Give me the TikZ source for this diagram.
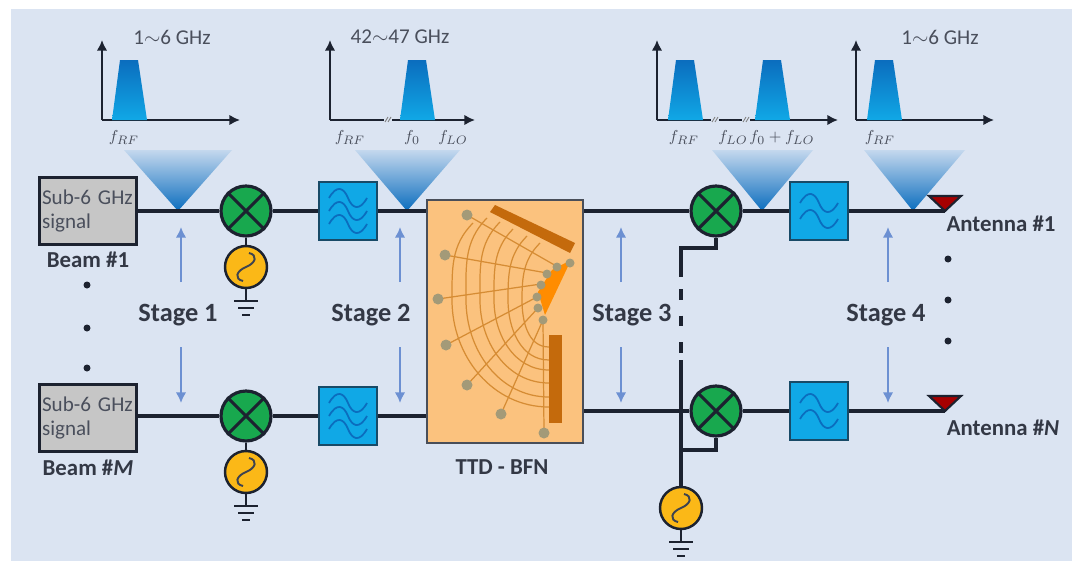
\documentclass[tikz,border=0pt]{standalone}
\usepackage{amsmath,amssymb}
\usepackage{fontspec}
\setmainfont{Carlito}
\usepackage{tikz}
\usetikzlibrary{arrows.meta}

\definecolor{panelbg}{HTML}{DBE4F2}
\definecolor{wirecol}{HTML}{1C2230}
\definecolor{mixgreen}{HTML}{18A84E}
\definecolor{oscyellow}{HTML}{FBB817}
\definecolor{filtblue}{HTML}{10A8E6}
\definecolor{banddark}{HTML}{0B6DBE}
\definecolor{funneltop}{HTML}{C4D8EE}
\definecolor{bfnorange}{HTML}{FBC27E}
\definecolor{barbrown}{HTML}{C46A0C}
\definecolor{arccol}{HTML}{D68C34}
\definecolor{portgray}{HTML}{A39A78}
\definecolor{stagearrow}{HTML}{6C90D2}
\definecolor{labelgray}{HTML}{4A4F5C}

\tikzset{
  wire/.style={line width=1.8pt,wirecol},
  mixer/.style={circle,draw=wirecol,line width=1.8pt,fill=mixgreen,minimum size=1cm,inner sep=0pt},
  osc/.style={circle,draw=wirecol,line width=1.4pt,fill=oscyellow,minimum size=0.84cm,inner sep=0pt},
  filt/.style={rectangle,draw=wirecol!70!filtblue,line width=1.4pt,fill=filtblue,minimum size=1.16cm,inner sep=0pt},
  srcbox/.style={rectangle,draw=wirecol,line width=2pt,fill=gray!45,minimum width=1.94cm,minimum height=1.34cm,
    text width=1.84cm,inner sep=0pt,align=left,text=labelgray,font=\fontsize{12}{14}\selectfont},
  boldlabel/.style={font=\fontsize{13}{15}\selectfont\bfseries,text=wirecol!90},
  stagelabel/.style={font=\fontsize{15}{17}\selectfont\bfseries,text=wirecol!90},
  bandlabel/.style={font=\fontsize{12}{14}\selectfont,text=labelgray},
  freqlabel/.style={font=\fontsize{9.5}{11}\selectfont,text=labelgray},
  axisline/.style={line width=1.6pt,wirecol,-{Latex[length=6pt,width=6pt]}},
  stagearr/.style={line width=1.5pt,stagearrow,-{Latex[length=6pt,width=6pt]}},
  bfnarc/.style={line width=0.7pt,arccol},
  gndpic/.pic={
    \draw[wire,line width=1.4pt] (-12,0) -- (12,0);
    \draw[wire,line width=1.4pt] (-8,7) -- (8,7);
    \draw[wire,line width=1.4pt] (-4,14) -- (4,14);
  },
  sinepic/.pic={
    \draw[wirecol!85,line width=1.1pt] (3,-14) .. controls (12,-12) and (10,-4) .. (0,0) .. controls (-10,4) and (-12,12) .. (-3,14);
  },
  wavepic/.pic={
    \draw[banddark,line width=1pt] (-19,0) .. controls (-11,-14) and (-4,-10) .. (0,0) .. controls (4,10) and (11,14) .. (19,0);
  }
}

\begin{document}
\begin{tikzpicture}[x=0.02cm,y=-0.02cm]
  \useasboundingbox (0,0) rectangle (1084,561);
  \fill[panelbg] (11,9) rectangle (1072,561);

  % Funnels from the line up to each spectrum
  \foreach \lx/\rx/\ax in {124/232/178,355/460/407,712/813/762,864/965/913}
    \shade[top color=funneltop,bottom color=banddark] (\lx,150) -- (\rx,150) -- (\ax,211) -- cycle;

  % Spectrum axes
  \foreach \ox/\ex in {102/240,330/475,657/838,856/994} {
    \draw[axisline] (\ox,120) -- (\ex,120);
    \draw[axisline] (\ox,120) -- (\ox,40);
  }
  % Spectrum bands
  \foreach \bx in {112,400,668,755,867}
    \shade[top color=banddark,bottom color=filtblue] (\bx,120) -- (\bx+8,60) -- (\bx+26,60) -- (\bx+35,120) -- cycle;
  % Axis breaks
  \foreach \bx in {388,715,746} {
    \fill[panelbg] (\bx-4,117) rectangle (\bx+4,123);
    \draw[gray,line width=0.5pt] (\bx-3,122) -- (\bx,117) (\bx,122) -- (\bx+3,117);
  }

  % Spectrum labels
  \node[bandlabel] (bandA) at (172,37) {1$\sim$6 GHz};
  \node[bandlabel] (bandB) at (400,37) {42$\sim$47 GHz};
  \node[bandlabel] (bandD) at (940,37) {1$\sim$6 GHz};
  \foreach \lx/\txt in {124/f_{RF},350/f_{RF},412/f_{0},453/f_{LO},684/f_{RF},733/f_{LO},782/f_{0}+f_{LO},880/f_{RF}}
    \node[freqlabel] at (\lx,138) {$\txt$};

  % Sources
  \node[srcbox] (srcA) at (88,211) {Sub-6 GHz\\signal};
  \node[srcbox] (srcB) at (88,418) {Sub-6 GHz\\signal};
  \node[boldlabel] (beamA) at (88,260) {Beam \#1};
  \node[boldlabel] (beamB) at (88,468) {Beam \#\textit{M}};

  % Mixers
  \foreach \n/\x/\y in {mixA/246/211,mixB/246/416,mixC/716/211,mixD/716/411} {
    \node[mixer] (\n) at (\x,\y) {};
    \draw[wire] (\n.45) -- (\n.225) (\n.135) -- (\n.315);
  }
  % Local oscillators and grounds
  \foreach \n/\x/\y in {oscA/246/267,oscB/246/472,oscC/681/508} {
    \node[osc] (\n) at (\x,\y) {};
    \pic at (\n) {sinepic};
    \pic at (\x,\y+34) {gndpic};
    \draw[wire,line width=1.4pt] (\n) -- (\x,\y+34);
  }
  % Filters
  \foreach \n/\x/\y in {filtA/348/211,filtB/348/416} {
    \node[filt] (\n) at (\x,\y) {};
    \foreach \dy in {-13,0,13} \pic at (\x,\y+\dy) {wavepic};
  }
  \foreach \n/\x/\y in {filtC/819/211,filtD/819/411} {
    \node[filt] (\n) at (\x,\y) {};
    \foreach \dy in {-8,8} \pic at (\x,\y+\dy) {wavepic};
  }

  % Lens block
  \node[rectangle,draw=wirecol!80,line width=1.4pt,fill=bfnorange,minimum width=3.12cm,minimum height=4.86cm] (bfn) at (505,321.5) {};
  \node[boldlabel] (bfnlabel) at (502,467) {TTD - BFN};
  % Lens contour
  \fill[orange!90!yellow] (571,260) -- (545,315) -- (538,292) -- (552,270) -- cycle;
  \fill[barbrown] (490,212) -- (495,205) -- (575,243) -- (570,253) -- cycle;
  \fill[barbrown] (549,335) rectangle (562,423);
  % Lens arcs
  \foreach \tx/\ty/\lx/\bx in {473/223/452/407,487/218/466/397,500/222/480/383,513/229/494/370,527/236/508/360,540/243/522/347}
    \draw[bfnarc] (\tx,\ty) to[out=225,in=90] (\lx,300) to[out=-90,in=180] (549,\bx);
  % Lens rays and ports
  \foreach \ax/\ay/\bx/\by in {467/215/558/267,445/255/547/273,438/299/541/284,446/345/537/297,467/385/538/308,501/414/543/320,544/433/543/320}
    \draw[bfnarc] (\ax,\ay) -- (\bx,\by);
  \foreach \px/\py in {467/215,445/255,438/299,446/345,467/385,501/414,544/433}
    \fill[portgray] (\px,\py) circle (5.5);
  \foreach \px/\py in {570/263,557/267,547/274,541/285,537/297,538/308,543/320}
    \fill[portgray] (\px,\py) circle (4.5);

  % Antennas
  \coordinate (antA) at (945,211);
  \coordinate (antB) at (945,411);
  \foreach \n in {antA,antB}
    \filldraw[draw=wirecol,fill=red!65!black,line width=1.2pt] (\n) -- ++(-16,-15) -- ++(32,0) -- cycle;
  \node[boldlabel] (antlabelA) at (1001,224) {Antenna \#1};
  \node[boldlabel] (antlabelB) at (1003,428) {Antenna \#\textit{N}};

  % Signal lines
  \draw[wire] (srcA) -- (mixA);
  \draw[wire] (mixA) -- (filtA);
  \draw[wire] (filtA) -- (filtA -| bfn.west);
  \draw[wire] (srcB.east |- mixB) -- (mixB);
  \draw[wire] (mixB) -- (filtB);
  \draw[wire] (filtB) -- (filtB -| bfn.west);
  \draw[wire] (bfn.east |- mixC) -- (mixC);
  \draw[wire] (mixC) -- (filtC);
  \draw[wire] (filtC) -- (antA);
  \draw[wire] (bfn.east |- mixD) -- (mixD);
  \draw[wire] (mixD) -- (filtD);
  \draw[wire] (filtD) -- (antB);
  \draw[wire,line width=1.4pt] (mixA) -- (oscA);
  \draw[wire,line width=1.4pt] (mixB) -- (oscB);

  % Shared local oscillator feed
  \coordinate (jogA) at (681,248);
  \coordinate (jogB) at (681,450);
  \coordinate (breakA) at (681,277);
  \coordinate (breakB) at (681,360);
  \draw[wire] (mixC.south) |- (jogA) -- (breakA);
  \draw[wire,dash pattern=on 6pt off 9pt,dash phase=8pt] (breakA) -- (breakB);
  \draw[wire] (breakB) -- (oscC);
  \draw[wire] (mixD.south) |- (jogB);

  % Stages
  \foreach \x/\sx/\txt in {181/178/Stage 1,400/371/Stage 2,621/632/Stage 3,888/886/Stage 4} {
    \draw[stagearr] (\x,282) -- (\x,227);
    \draw[stagearr] (\x,347) -- (\x,403);
    \node[stagelabel] at (\sx,315) {\txt};
  }

  % Continuation dots
  \foreach \x/\y in {87/285,87/328,87/368,948/259,948/300,948/341}
    \fill[wirecol] (\x,\y) circle (3.5);
\end{tikzpicture}
\end{document}
